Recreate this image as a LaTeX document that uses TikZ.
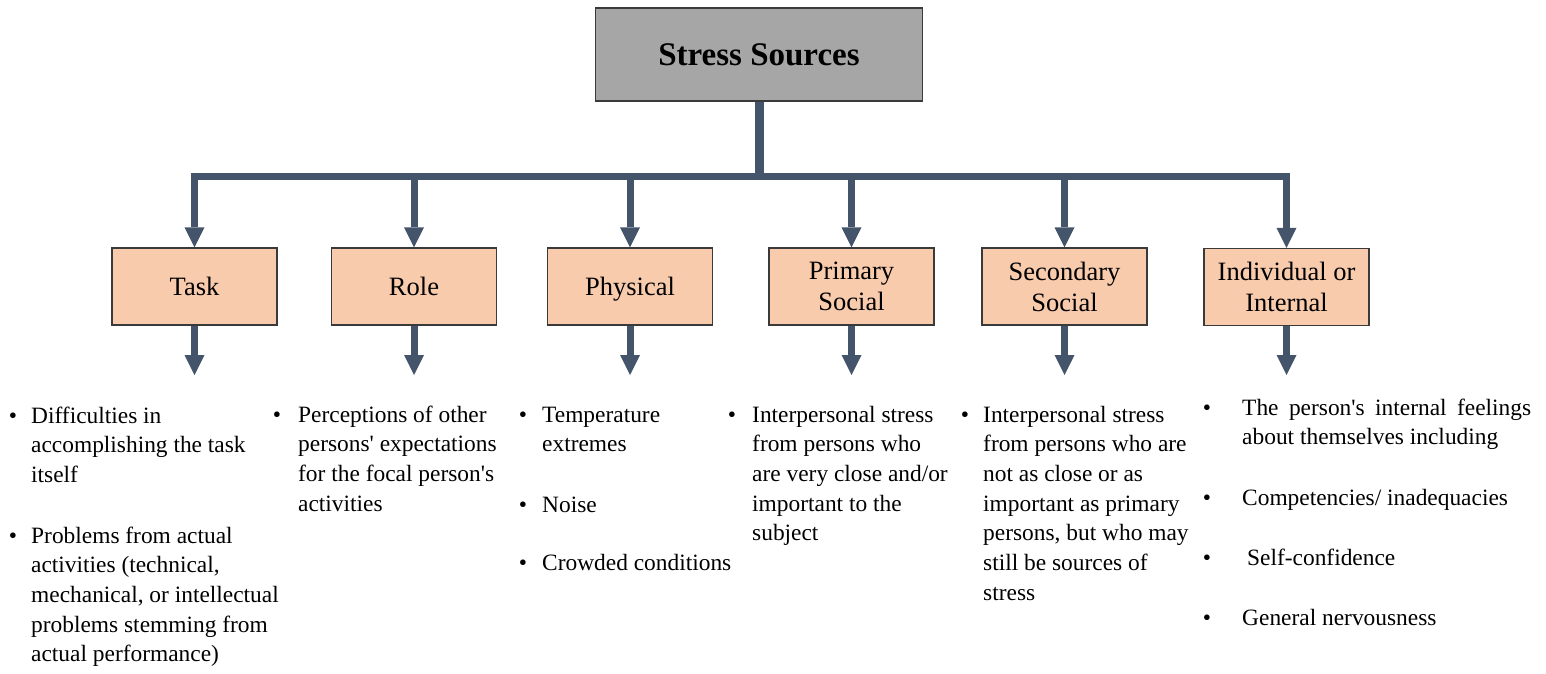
\documentclass[tikz,border=0pt]{standalone}
\usepackage{fontspec}
\setmainfont{Liberation Serif}[Ligatures=TeXOff]
\usetikzlibrary{arrows.meta}
\definecolor{linec}{HTML}{44546A}
\definecolor{boxfill}{HTML}{F8CBAD}
\definecolor{titlefill}{HTML}{A6A6A6}
\definecolor{edgec}{HTML}{3A3A3A}
\newcommand{\mystack}[1]{\vtop{\halign{##\hfil\cr#1\crcr}}}
\begin{document}
\begin{tikzpicture}[x=1pt,y=-1pt,
  titlebox/.style={draw=edgec, line width=1.5pt, fill=titlefill, minimum width=327pt, minimum height=93pt, inner sep=0pt, font=\fontsize{33}{38}\selectfont\bfseries},
  catbox/.style={draw=edgec, line width=1.3pt, fill=boxfill, minimum width=165pt, minimum height=77pt, inner sep=0pt, align=center, font=\fontsize{26.5}{31}\selectfont},
  conn/.style={draw=linec, line width=7pt},
  arr/.style={conn, -{Triangle[width=20pt,length=20pt,line width=0pt]}},
  itemtext/.style={anchor=base west, inner sep=0pt, font=\fontsize{23.4}{29.7}\selectfont},
  bul/.style={anchor=base, inner sep=0pt, font=\fontsize{23.4}{29.7}\selectfont},
]
\useasboundingbox (0,0) rectangle (1546,673);

% title
\node[titlebox] (title) at (759,54.5) {Stress Sources};

% category boxes
\node[catbox] (task) at (194.5,286.5) {Task};
\node[catbox] (role) at (414,286.5) {Role};
\node[catbox, text depth=0pt] (phys) at (630,286.5) {Physical};
\node[catbox] (prim) at (851.5,286.5) {Primary\\Social};
\node[catbox] (sec)  at (1064.5,286.5) {Secondary\\Social};
\node[catbox] (ind)  at (1286.5,287) {Individual or\\Internal};

% tree connectors
\coordinate (hub) at (759,176);
\draw[conn, line width=9pt] (title.south) -- (hub);
\draw[conn, line cap=rect] (task.center |- hub) -- (ind.center |- hub);
\foreach \b in {task,role,phys,prim,sec,ind}{
  \draw[arr] (\b.center |- hub) -- (\b.north);
  \coordinate (\b end) at (\b.south |- 0,375);
  \draw[arr] (\b.south) -- (\b end);
}

% Task list
\node[bul] (tb1) at (13,423) {•};
\node[itemtext] (tt1) at (31,423) {\mystack{Difficulties in\cr accomplishing the task\cr itself}};
\node[bul] (tb2) at (13,543) {•};
\node[itemtext] (tt2) at (31,543) {\mystack{Problems from actual\cr activities (technical,\cr mechanical, or intellectual\cr problems stemming from\cr actual performance)}};

% Role list
\node[bul] (rb1) at (277,422) {•};
\node[itemtext] (rt1) at (298,422) {\mystack{Perceptions of other\cr persons' expectations\cr for the focal person's\cr activities}};

% Physical list
\node[bul] (pb1) at (523,422) {•};
\node[itemtext] (pt1) at (542,422) {\mystack{Temperature\cr extremes}};
\node[bul] (pb2) at (523,512) {•};
\node[itemtext] (pt2) at (542,512) {Noise};
\node[bul] (pb3) at (523,570) {•};
\node[itemtext] (pt3) at (542,570) {Crowded conditions};

% Primary social list
\node[bul] (qb1) at (732,422) {•};
\node[itemtext] (qt1) at (752,422) {\mystack{Interpersonal stress\cr from persons who\cr are very close and/or\cr important to the\cr subject}};

% Secondary social list
\node[bul] (sb1) at (965,422) {•};
\node[itemtext] (st1) at (983,422) {\mystack{Interpersonal stress\cr from persons who are\cr not as close or as\cr important as primary\cr persons, but who may\cr still be sources of\cr stress}};

% Individual list
\node[bul] (ib1) at (1207,415) {•};
\node[itemtext] (it1) at (1242,415) {\mystack{\makebox[289pt][s]{The person's internal feelings}\cr about themselves including}};
\node[bul] (ib2) at (1207,505) {•};
\node[itemtext] (it2) at (1242,505) {Competencies/ inadequacies};
\node[bul] (ib3) at (1207,565) {•};
\node[itemtext] (it3) at (1247,565) {Self-confidence};
\node[bul] (ib4) at (1207,625) {•};
\node[itemtext] (it4) at (1242,625) {General nervousness};
\end{tikzpicture}
\end{document}
